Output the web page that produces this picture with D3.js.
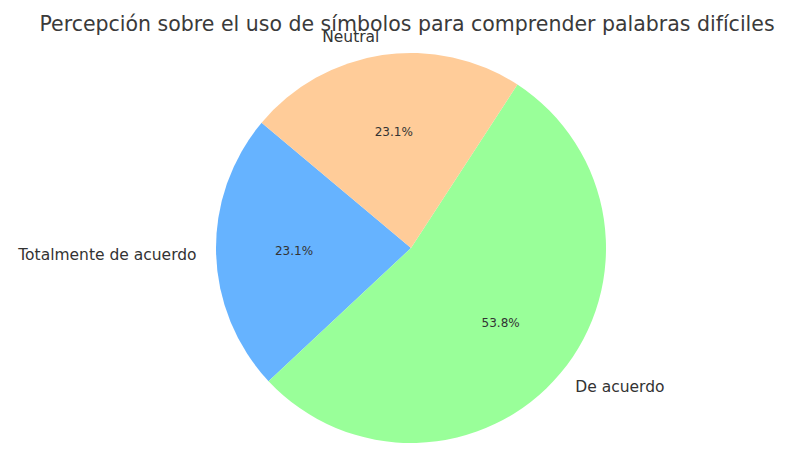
<!DOCTYPE html>
<html>
<head>
<meta charset="utf-8">
<script src="https://cdn.jsdelivr.net/npm/d3@7/dist/d3.min.js"></script>
<style>
  body { margin: 0; background: #fff; }
  svg { display: block; }
  text { font-family: "DejaVu Sans", sans-serif; }
</style>
</head>
<body>
<svg id="chart" width="787" height="449"></svg>
<script>
const categories = ["Totalmente de acuerdo", "De acuerdo", "Neutral"];
const values = [3, 7, 3];
const colors = ["#66b3ff", "#99ff99", "#ffcc99"];
const title = "Percepción sobre el uso de símbolos para comprender palabras difíciles";

const width = 787, height = 449;
const cx = 411, cy = 248, R = 195;
const startDeg = 140; // matplotlib startangle, counterclockwise

const svg = d3.select("#chart");

svg.append("text")
  .attr("x", 407).attr("y", 31)
  .attr("text-anchor", "middle")
  .attr("font-size", 20.5)
  .attr("fill", "#3a3a3a")
  .text(title);

const data = categories.map((c, i) => ({ label: c, value: values[i], color: colors[i] }));
const total = d3.sum(values);

const pie = d3.pie().value(d => d.value).sort(null)
  .startAngle((90 - startDeg) * Math.PI / 180)
  .endAngle((90 - startDeg - 360) * Math.PI / 180);

const arcs = pie(data);
const arc = d3.arc().innerRadius(0).outerRadius(R);

const g = svg.append("g").attr("transform", `translate(${cx},${cy})`);

g.selectAll("path.slice").data(arcs).enter().append("path")
  .attr("class", "slice")
  .attr("d", arc)
  .attr("fill", d => d.data.color);

function midXY(d, r) {
  const a = (d.startAngle + d.endAngle) / 2;
  return [r * Math.sin(a), -r * Math.cos(a)];
}

g.selectAll("text.pct").data(arcs).enter().append("text")
  .attr("class", "pct")
  .attr("x", d => midXY(d, 0.6 * R)[0])
  .attr("y", d => midXY(d, 0.6 * R)[1])
  .attr("text-anchor", "middle")
  .attr("dominant-baseline", "central")
  .attr("font-size", 12)
  .attr("fill", "#333")
  .text(d => (d.value / total * 100).toFixed(1) + "%");

g.selectAll("text.lbl").data(arcs).enter().append("text")
  .attr("class", "lbl")
  .attr("x", d => midXY(d, 1.1 * R)[0])
  .attr("y", d => midXY(d, 1.1 * R)[1] + 1)
  .attr("text-anchor", d => midXY(d, 1)[0] > 0 ? "start" : "end")
  .attr("dominant-baseline", "central")
  .attr("font-size", 15.5)
  .attr("fill", "#333")
  .text(d => d.data.label);
</script>
</body>
</html>
